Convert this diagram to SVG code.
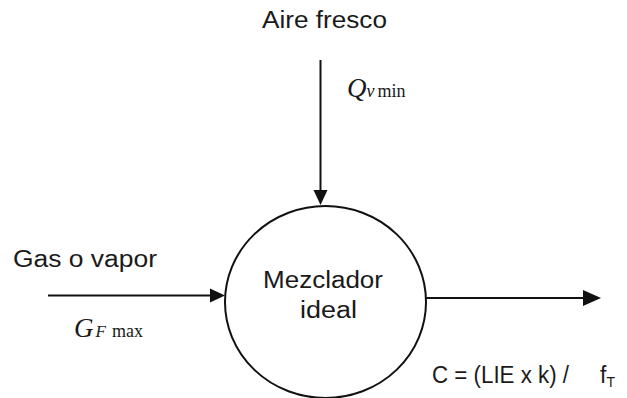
<svg xmlns="http://www.w3.org/2000/svg" width="627" height="398" viewBox="0 0 627 398">
<style>
.lbl{font-family:"Liberation Sans",Arial,sans-serif;font-size:23px;fill:#1a1a1a}
.math{font-family:"Liberation Serif","Times New Roman",serif;fill:#1a1a1a}
.ln{stroke:#111;stroke-width:2;fill:none}
</style>
<rect width="627" height="398" fill="#fff"/>
<g id="connectors">
<line class="ln" x1="320.5" y1="60" x2="320.5" y2="192"/>
<polygon points="313.5,190 327.5,190 320.5,205" fill="#111"/>
<line class="ln" x1="48" y1="295.5" x2="212" y2="295.5"/>
<polygon points="210,288.5 210,302.5 225,295.5" fill="#111"/>
<line class="ln" x1="426" y1="298" x2="586" y2="298"/>
<polygon points="583,290 583,306 601,298" fill="#111"/>
</g>
<g id="mixer">
<ellipse cx="325.5" cy="302" rx="100.5" ry="96" fill="#fff" stroke="#111" stroke-width="2"/>
<text class="lbl" x="323" y="288" text-anchor="middle" textLength="120" lengthAdjust="spacingAndGlyphs">Mezclador</text>
<text class="lbl" x="328.5" y="318" text-anchor="middle" textLength="57" lengthAdjust="spacingAndGlyphs">ideal</text>
</g>
<g id="aire">
<text class="lbl" x="262" y="28" textLength="125" lengthAdjust="spacingAndGlyphs">Aire fresco</text>
<text class="math" x="347" y="97"><tspan font-size="27" font-style="italic">Q</tspan><tspan font-size="18" font-style="italic" dx="0">v</tspan><tspan font-size="18" dx="3">min</tspan></text>
</g>
<g id="gas">
<text class="lbl" x="13" y="267" textLength="144" lengthAdjust="spacingAndGlyphs">Gas o vapor</text>
<text class="math" x="74" y="337"><tspan font-size="27" font-style="italic">G</tspan><tspan font-size="17" font-style="italic" dx="2">F</tspan><tspan font-size="18" dx="6">max</tspan></text>
</g>
<g id="salida">
<text class="lbl" x="432" y="383" font-size="24" textLength="137" lengthAdjust="spacingAndGlyphs">C = (LIE x k) /</text>
<text class="lbl" x="600" y="383" font-size="24">f<tspan font-size="14" dy="4">T</tspan></text>
</g>
</svg>
